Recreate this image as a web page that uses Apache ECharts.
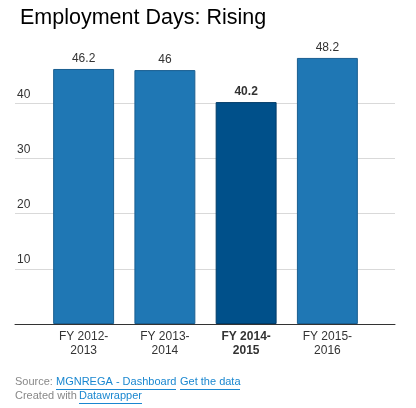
<!DOCTYPE html>
<html><head><meta charset="utf-8">
<script src="https://cdn.jsdelivr.net/npm/echarts@6/dist/echarts.min.js"></script>
<style>
html,body{margin:0;padding:0;background:#fff;}
#c{width:416px;height:408px;}
</style></head>
<body><div id="c"></div>
<script>
const categories = ['FY 2012-\n2013', 'FY 2013-\n2014', 'FY 2014-\n2015', 'FY 2015-\n2016'];
const values = [46.2, 46, 40.2, 48.2];
const highlightIndex = 2;
const yTicks = [10, 20, 30, 40];

const chart = echarts.init(document.getElementById('c'), null, {renderer: 'canvas'});
const font = 'Arial, "Liberation Sans", sans-serif';
const normal = '#1f77b4', normalBorder = '#1a5f91';
const hi = '#00508a', hiBorder = '#003c68';

chart.setOption({
  animation: false,
  textStyle: {fontFamily: font},
  title: {
    text: 'Employment Days: Rising',
    left: 15, top: 2,
    textStyle: {fontFamily: font, fontSize: 21.5, fontWeight: 'normal', color: '#000'}
  },
  grid: [
    {left: 43, right: 48, top: 48, bottom: 84},
    {left: 15, right: 21, top: 48, bottom: 84}
  ],
  xAxis: [
    {
      type: 'category', gridIndex: 0,
      data: categories.map(function(c, i){
        return {value: c, textStyle: {fontWeight: i === highlightIndex ? 'bold' : 'normal'}};
      }),
      axisLine: {show: false}, axisTick: {show: false},
      axisLabel: {margin: 6, color: '#333', fontSize: 12, lineHeight: 14, fontFamily: font}
    },
    {
      type: 'value', gridIndex: 1, min: 0, max: 1,
      axisLine: {show: true, onZero: false, lineStyle: {color: '#333', width: 1}},
      axisTick: {show: false}, axisLabel: {show: false}, splitLine: {show: false}
    }
  ],
  yAxis: [
    {type: 'value', gridIndex: 0, min: 0, max: 50, interval: 10, show: false},
    {
      type: 'value', gridIndex: 1, min: 0, max: 50, interval: 10,
      axisLine: {show: false}, axisTick: {show: false},
      axisLabel: {
        inside: true, margin: 2, color: '#333', fontSize: 12, fontFamily: font,
        verticalAlign: 'bottom', padding: [0, 0, 3, 0],
        showMinLabel: false, showMaxLabel: false,
        formatter: function(v){ return yTicks.indexOf(v) >= 0 ? String(v) : ''; }
      },
      splitLine: {show: true, showMinLine: false, showMaxLine: false, lineStyle: {color: '#d9d9d9', width: 1}}
    }
  ],
  series: [{
    type: 'bar', xAxisIndex: 0, yAxisIndex: 0,
    barCategoryGap: '25%',
    data: values.map(function(v, i){
      const h = i === highlightIndex;
      return {
        value: v,
        itemStyle: {color: h ? hi : normal, borderColor: h ? hiBorder : normalBorder, borderWidth: 1},
        label: {fontWeight: h ? 'bold' : 'normal'}
      };
    }),
    label: {show: true, position: 'top', distance: 4, color: '#333', fontSize: 12, fontFamily: font}
  }],
  graphic: [
    {type: 'text', left: 15, top: 376, style: {text: 'Source: ', fill: '#888', font: '11px ' + font}},
    {type: 'text', left: 56, top: 376, style: {text: 'MGNREGA - Dashboard', fill: '#1a87d0', font: '11px ' + font}},
    {type: 'rect', shape: {x: 56, y: 389, width: 120, height: 1}, style: {fill: '#1a87d0'}},
    {type: 'text', left: 180, top: 376, style: {text: 'Get the data', fill: '#1a87d0', font: '11px ' + font}},
    {type: 'rect', shape: {x: 180, y: 389, width: 60, height: 1}, style: {fill: '#1a87d0'}},
    {type: 'text', left: 15, top: 390, style: {text: 'Created with ', fill: '#888', font: '11px ' + font}},
    {type: 'text', left: 79, top: 390, style: {text: 'Datawrapper', fill: '#1a87d0', font: '11px ' + font}},
    {type: 'rect', shape: {x: 79, y: 403, width: 63, height: 1}, style: {fill: '#1a87d0'}}
  ]
});
</script></body></html>
